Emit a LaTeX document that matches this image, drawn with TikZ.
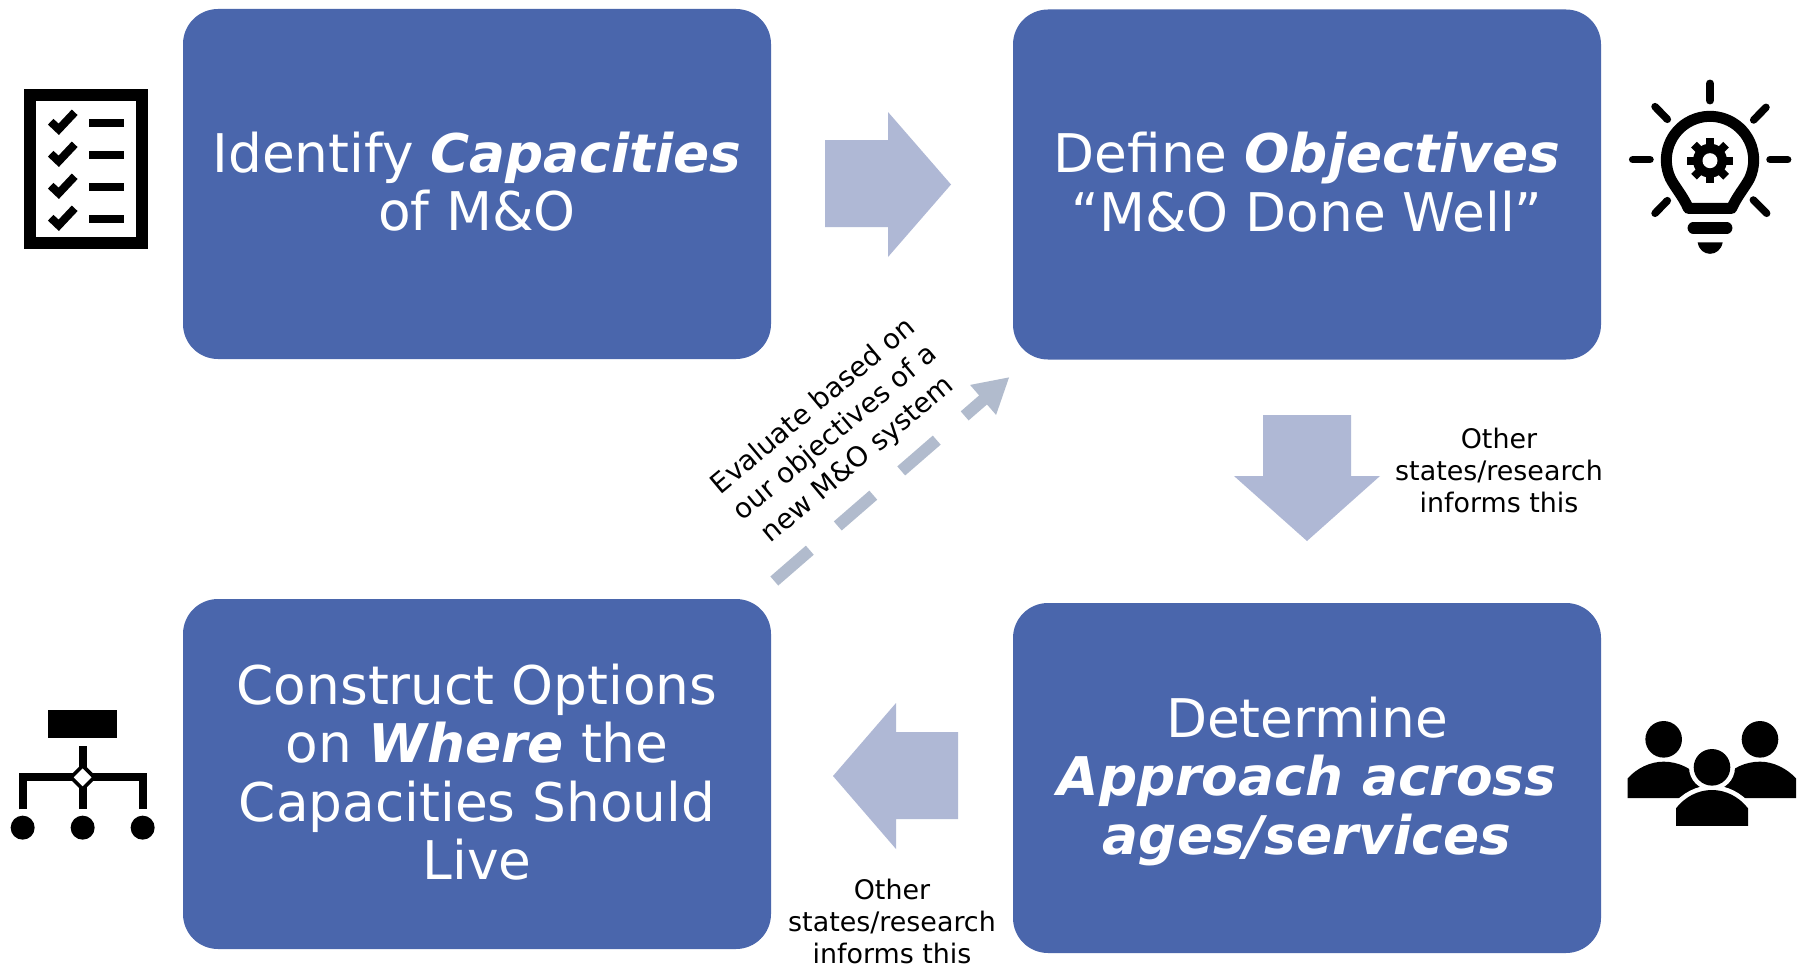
\documentclass[tikz,border=0pt]{standalone}
\usepackage{fontspec}
\setmainfont{DejaVu Sans}
\usetikzlibrary{arrows.meta,shapes.geometric}
\definecolor{boxblue}{HTML}{4A66AC}
\definecolor{blockc}{HTML}{AFB8D5}
\definecolor{dashc}{HTML}{B1BBCD}
\tikzset{
  stepbox/.style={fill=boxblue,rounded corners=35pt,minimum width=588pt,minimum height=350pt,inner sep=0pt},
  stepText/.style={inner sep=0pt,text=white,align=center,font=\fontsize{53.3}{58.5}\selectfont},
  blockarrow/.style={fill=blockc},
  noteText/.style={align=center,inner sep=0pt,text=black,font=\fontsize{26.9}{32}\selectfont},
  slantText/.style={align=center,inner sep=0pt,text=black,font=\fontsize{27.6}{34.5}\selectfont},
  dashconn/.style={draw=dashc,line width=12pt,dash pattern=on 47pt off 37pt,-{Triangle[length=35pt,width=37pt,fill=dashc]}},
  ink/.style={black,line join=miter},
  zoomed/.style={x=0.3333pt,y=-0.3333pt}
}
\begin{document}
\begin{tikzpicture}[x=1pt,y=-1pt]
\path[use as bounding box,fill=white] (0,0) rectangle (1804,966);
% step boxes
\node[stepbox] (cap) at (477,184) {};
\node[stepbox] (obj) at (1307,184.5) {};
\node[stepbox] (app) at (1307,778) {};
\node[stepbox] (opt) at (477,774) {};
\node[stepText] (capT) at ([yshift=2.3pt]cap.center) {Identify \textbf{\textit{Capacities}}\\of M\&O};
\node[stepText] (objT) at ([yshift=2.3pt]obj.center) {Define \textbf{\textit{Objectives}}\\“M\&O Done Well”};
\node[stepText] (appT) at ([yshift=-3.3pt]app.center) {Determine\\\textbf{\textit{Approach across}}\\\textbf{\textit{ages/services}}};
\node[stepText] (optT) at ([yshift=2pt]opt.center) {Construct Options\\on \textbf{\textit{Where}} the\\Capacities Should\\Live};
% block arrows
\fill[blockarrow] (825,140) -- (888,140) -- (888,112) -- (951,184.5) -- (888,257) -- (888,227) -- (825,227) -- cycle;
\fill[blockarrow] (1263,415) -- (1351,415) -- (1351,476) -- (1380,476) -- (1307,541) -- (1234,476) -- (1263,476) -- cycle;
\fill[blockarrow] (958,732) -- (896,732) -- (896,703) -- (833,776) -- (896,849) -- (896,819) -- (958,819) -- cycle;
% dashed connector
\coordinate (dashA) at (774.3,581);
\coordinate (dashB) at (1009.5,377);
\draw[dashconn] (dashA) -- (dashB);
% notes
\node[noteText] (n1) at (1499,470) {Other\\states/research\\informs this};
\node[noteText] (n2) at (892,921) {Other\\states/research\\informs this};
\node[slantText,rotate=40] (n3) at (836,433.5) {Evaluate based on\\our objectives of a\\new M\&O system};
% checklist icon
\draw[ink,line width=12pt] (29.8,95) rectangle (142,243);
\foreach \dy in {0,32,64,96}{
  \draw[ink,line width=8pt] (50.7,121.7+\dy) -- (58.7,129.3+\dy) -- (74.7,112.3+\dy);
  \draw[ink,line width=8pt] (89,122.7+\dy) -- (124,122.7+\dy);
}
% bulb icon
\begin{scope}[shift={(1610pt,-70pt)},zoomed]
  \foreach \a/\b/\c/\d in {300/40/300/92,68/269/120/269,480/269/533/269,135/110/172/148,468/112/431/150,172/392/135/430,430/390/470/430}
    \draw[ink,line width=7.5pt,line cap=round] (\a,\b) -- (\c,\d);
  \draw[ink,line width=11pt,line join=round] (235,415) .. controls (220,380) and (195,352) .. (181.3,325.4) arc (205:-25:43.67pt) .. controls (405,352) and (380,380) .. (365,415) -- cycle;
  \fill[black] (300,272) circle (17pt);
  \foreach \ang in {0,45,...,315}
    \draw[black,line width=8pt,line join=round,shift={(300,272)}] (0,0) -- ++(\ang:22.7pt);
  \fill[white] (300,272) circle (7.5pt);
  \draw[ink,line width=11.5pt,line cap=round] (250,474) -- (350,474);
  \fill[black] (263,517) .. controls (270,563) and (330,563) .. (338,517) -- cycle;
\end{scope}
% hierarchy icon
\begin{scope}[shift={(0pt,-700pt)},zoomed]
  \fill[black] (144,30) rectangle (351,113);
  \draw[ink,line width=8pt] (248,138) -- (248,328);
  \draw[ink,line width=8pt] (68,328) -- (68,232) -- (428,232) -- (428,328);
  \fill[white,draw=black,line width=3.6pt] (248,197) -- (283,232) -- (248,267) -- (213,232) -- cycle;
  \foreach \x in {68,248,428} \fill[black] (\x,383) circle (12pt);
\end{scope}
% people icon
\begin{scope}[shift={(1620pt,-710pt)},zoomed]
  \fill[black] (131,88) circle (18.3pt);
  \fill[black] (420,88) circle (18.3pt);
  \fill[black] (23,264) -- (23,205) .. controls (50,175) and (90,155) .. (131,155) .. controls (175,155) and (215,175) .. (240,205) -- (240,264) -- cycle;
  \fill[black] (528,264) -- (528,205) .. controls (500,175) and (460,155) .. (420,155) .. controls (375,155) and (335,175) .. (310,205) -- (310,264) -- cycle;
  \filldraw[black,draw=white,line width=9.3pt] (276,172) circle (18.3pt);
  \filldraw[black,draw=white,line width=9.3pt,line join=round] (168,348) -- (168,295) .. controls (195,260) and (235,240) .. (276,240) .. controls (317,240) and (357,260) .. (384,295) -- (384,348) -- cycle;
  \fill[black] (276,172) circle (18.3pt);
  \fill[black] (168,348) -- (168,295) .. controls (195,260) and (235,240) .. (276,240) .. controls (317,240) and (357,260) .. (384,295) -- (384,348) -- cycle;
\end{scope}
\end{tikzpicture}
\end{document}
